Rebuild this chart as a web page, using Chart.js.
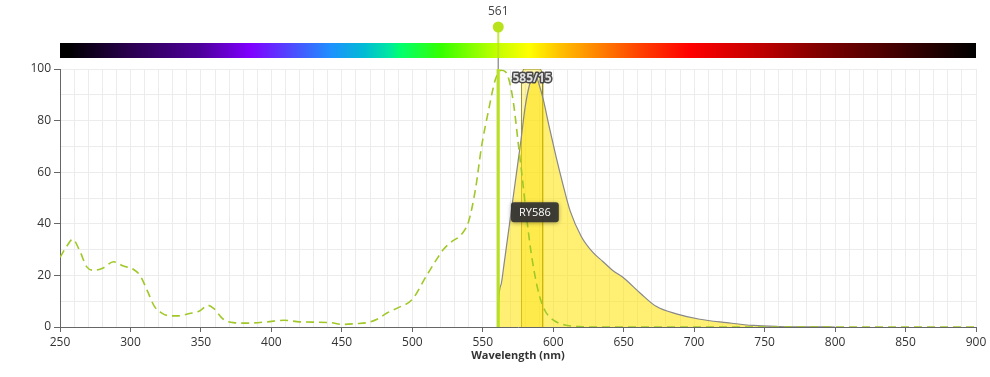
<!DOCTYPE html>
<html>
<head>
<meta charset="utf-8">
<script src="https://cdn.jsdelivr.net/npm/chart.js@4.4.1/dist/chart.umd.min.js"></script>
<style>
html, body { margin: 0; padding: 0; background: #fff; }
#wrap { width: 990px; height: 377px; position: relative; }
</style>
</head>
<body>
<div id="wrap"><canvas id="spectraChart"></canvas></div>
<script>
// excitation spectrum (dashed)
const exWavelengths = [250, 255, 259, 264, 269, 274, 281, 288, 295, 302, 307, 312, 317, 322, 326, 333, 342, 349, 355, 359, 366, 373, 383, 397, 409, 420, 442, 450, 460, 468, 475, 482, 490, 500, 510, 517, 522, 527, 535, 540, 545, 549, 554, 559, 563, 566, 569, 572, 575, 578, 581, 584, 587, 590, 594, 598, 604, 610, 620, 630, 700, 800, 900];
const exValues = [27, 31.5, 34, 29.5, 23.3, 22, 23, 25.3, 23.6, 22.4, 19.8, 14, 8, 5.5, 4.5, 4.3, 5.2, 6.2, 8.4, 7.2, 3, 1.7, 1.5, 2, 2.6, 2, 1.7, 1, 1.3, 1.7, 3, 5.4, 7.5, 10.7, 19.8, 26, 30, 32.7, 36, 41, 54, 69.5, 83.7, 96, 99.5, 99, 95, 86, 72, 58, 43, 30, 20, 12.5, 6.5, 3.6, 1.5, 0.6, 0.1, 0, 0, 0, 0];

// emission spectrum (filled)
const emWavelengths = [561, 561.2, 563, 565, 567, 569, 571, 573, 575, 577, 580, 583, 586, 588, 590, 593, 597, 602, 607, 612, 620, 628, 635, 642, 650, 662, 673, 688, 704, 723, 742, 760, 780, 800];
const emValues = [0, 9, 16.5, 24, 32, 40, 48, 56, 64, 72, 85, 93.5, 97.5, 97, 94, 88, 78, 66, 55, 45, 35, 29, 25.5, 22, 19, 13, 8, 5, 3, 1.7, 0.6, 0.2, 0.05, 0];

// emission filter 585/15
const filterWavelengths = [577.5, 577.5, 579, 591, 592.5, 592.5];
const filterValues = [0, 98, 100, 100, 98, 0];
const filterName = '585/15';
const filterCenter = 585;

const fluorName = 'RY586';
const fluorPeak = 587;
const laserWavelength = 561;

// colour bar along the top
const barWavelengths = [250, 256, 300, 349, 385, 442, 466, 484, 491, 520, 541, 562, 583, 605, 633, 662, 697, 747, 789, 846, 900];
const barColors = ['#000000', '#000000', '#2a0050', '#4d0099', '#8000ff', '#1e90ff', '#00bcd4', '#00e8a0', '#00ff70', '#33ff00', '#80ff00', '#c8ff00', '#ffff00', '#ffc000', '#ff8000', '#ff4000', '#ff0000', '#c00000', '#800000', '#400000', '#000000'];

const laserColor = '#b8e31c';

function toPoints(xs, ys) {
  return xs.map((x, i) => ({ x: x, y: ys[i] }));
}

const decorPlugin = {
  id: 'decor',
  afterDatasetsDraw(chart) {
    const ctx = chart.ctx;
    const xs = chart.scales.x;
    const ys = chart.scales.y;

    // filter label
    ctx.save();
    ctx.font = 'bold 12px "Open Sans", sans-serif';
    ctx.textAlign = 'center';
    ctx.textBaseline = 'middle';
    const fx = xs.getPixelForValue(filterCenter);
    const fy = chart.chartArea.top + 10;
    ctx.lineJoin = 'round';
    ctx.lineWidth = 3;
    ctx.strokeStyle = '#4a4a4a';
    ctx.strokeText(filterName, fx, fy);
    ctx.fillStyle = '#e0e0e0';
    ctx.fillText(filterName, fx, fy);
    ctx.restore();

    // fluorophore label box
    ctx.save();
    const lx = xs.getPixelForValue(fluorPeak);
    const ly = ys.getPixelForValue(44.5);
    ctx.font = '11px "Open Sans", sans-serif';
    const w = ctx.measureText(fluorName).width + 16;
    const h = 20;
    ctx.shadowColor = 'rgba(0,0,0,0.35)';
    ctx.shadowBlur = 4;
    ctx.shadowOffsetY = 1;
    ctx.fillStyle = 'rgba(50,50,50,0.92)';
    ctx.beginPath();
    ctx.roundRect(lx - w / 2, ly - h / 2, w, h, 3);
    ctx.fill();
    ctx.shadowColor = 'transparent';
    ctx.fillStyle = '#ffffff';
    ctx.textAlign = 'center';
    ctx.textBaseline = 'middle';
    ctx.fillText(fluorName, lx, ly + 0.5);
    ctx.restore();
  },
  afterDraw(chart) {
    const ctx = chart.ctx;
    const xs = chart.scales.x;
    const area = chart.chartArea;
    const barTop = 43, barH = 15;

    // spectrum colour bar
    ctx.save();
    const grad = ctx.createLinearGradient(area.left, 0, area.right, 0);
    barWavelengths.forEach((wl, i) => {
      const px = xs.getPixelForValue(wl);
      grad.addColorStop((px - area.left) / (area.right - area.left), barColors[i]);
    });
    ctx.fillStyle = grad;
    ctx.fillRect(area.left, barTop, area.right - area.left, barH);
    ctx.restore();

    // laser marker above plot
    const lx = xs.getPixelForValue(laserWavelength);
    ctx.save();
    ctx.strokeStyle = '#9a9a9a';
    ctx.lineWidth = 1.5;
    ctx.beginPath();
    ctx.moveTo(lx, barTop + barH);
    ctx.lineTo(lx, area.top);
    ctx.stroke();
    ctx.strokeStyle = laserColor;
    ctx.lineWidth = 2;
    ctx.globalAlpha = 0.8;
    ctx.beginPath();
    ctx.moveTo(lx, 27);
    ctx.lineTo(lx, barTop + barH);
    ctx.stroke();
    ctx.globalAlpha = 1;
    ctx.fillStyle = laserColor;
    ctx.beginPath();
    ctx.arc(lx, 27, 5.5, 0, Math.PI * 2);
    ctx.fill();
    ctx.fillStyle = '#444';
    ctx.font = '12px "Open Sans", sans-serif';
    ctx.textAlign = 'center';
    ctx.textBaseline = 'middle';
    ctx.fillText(String(laserWavelength), lx, 12);
    ctx.restore();
  }
};

const config = {
  type: 'line',
  data: {
    datasets: [
      {
        label: 'laser',
        data: [{ x: laserWavelength, y: 0 }, { x: laserWavelength, y: 100 }],
        borderColor: laserColor,
        borderWidth: 3,
        pointRadius: 0,
        fill: false,
        order: 0
      },
      {
        label: 'RY586 ex',
        data: toPoints(exWavelengths, exValues),
        borderColor: 'rgba(160,200,40,1)',
        borderWidth: 1.6,
        borderDash: [8, 5],
        pointRadius: 0,
        fill: false,
        cubicInterpolationMode: 'monotone',
        order: 1
      },
      {
        label: 'RY586 em',
        data: toPoints(emWavelengths, emValues),
        borderColor: '#888888',
        borderWidth: 1.2,
        backgroundColor: 'rgba(255,226,0,0.55)',
        pointRadius: 0,
        fill: 'origin',
        cubicInterpolationMode: 'monotone',
        order: 2
      },
      {
        label: filterName,
        data: toPoints(filterWavelengths, filterValues),
        borderColor: 'rgba(140,128,20,0.85)',
        borderWidth: 1,
        backgroundColor: 'rgba(255,225,0,0.35)',
        pointRadius: 0,
        fill: 'origin',
        order: 3
      }
    ]
  },
  options: {
    responsive: true,
    maintainAspectRatio: false,
    animation: false,
    layout: {
      padding: { top: 69, right: 14, bottom: 15, left: 0 }
    },
    plugins: {
      legend: { display: false },
      tooltip: { enabled: false }
    },
    scales: {
      x: {
        type: 'linear',
        min: 250,
        max: 900,
        afterFit: function(scale) { scale.height = 35; },
        border: { color: '#666', width: 1 },
        grid: {
          color: '#ececec',
          tickLength: 5,
          tickColor: function(c) { return c.tick && c.tick.value % 50 === 0 ? '#666' : 'rgba(0,0,0,0)'; }
        },
        ticks: {
          stepSize: 10,
          autoSkip: false,
          maxRotation: 0,
          padding: 3,
          color: '#333',
          font: { family: '"Open Sans", sans-serif', size: 12 },
          callback: function(value) { return value % 50 === 0 ? value : ''; }
        },
        title: {
          display: true,
          text: 'Wavelength (nm)',
          color: '#333',
          padding: { top: 0, bottom: 0 },
          font: { family: '"Open Sans", sans-serif', size: 11, weight: 'bold' }
        }
      },
      y: {
        min: 0,
        max: 100,
        afterFit: function(scale) { scale.width = 60; },
        border: { color: '#666', width: 1 },
        grid: {
          color: '#ececec',
          tickLength: 6,
          tickColor: function(c) { return c.tick && c.tick.value % 20 === 0 ? '#666' : 'rgba(0,0,0,0)'; }
        },
        ticks: {
          stepSize: 10,
          autoSkip: false,
          padding: 3,
          color: '#333',
          font: { family: '"Open Sans", sans-serif', size: 12 },
          callback: function(value) { return value % 20 === 0 ? value : ''; }
        }
      }
    }
  },
  plugins: [decorPlugin]
};

new Chart(document.getElementById('spectraChart'), config);
</script>
</body>
</html>
